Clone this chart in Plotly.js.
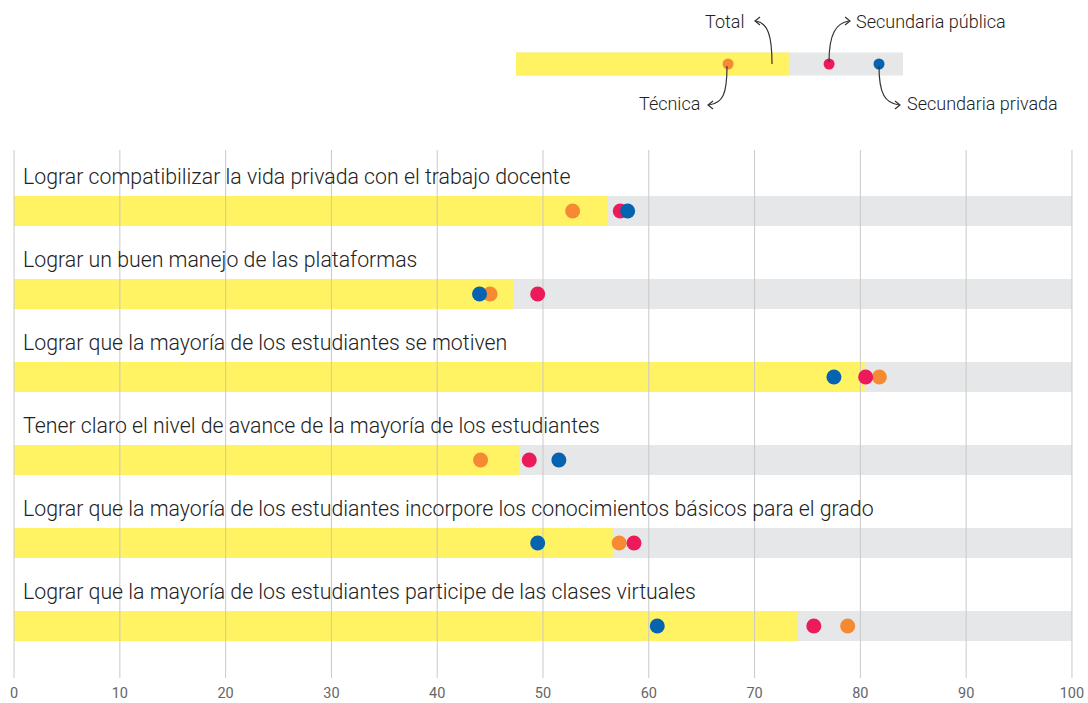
<!DOCTYPE html>
<html>
<head>
<meta charset="utf-8">
<script src="https://cdn.plot.ly/plotly-3.0.1.min.js"></script>
<style>html,body{margin:0;padding:0;background:#fff;}#chart{width:1088px;height:703px;}</style>
</head>
<body>
<div id="chart"></div>
<script>
// ---------- DATA ----------
const categories = [
  "Lograr compatibilizar la vida privada con el trabajo docente",
  "Lograr un buen manejo de las plataformas",
  "Lograr que la mayoría de los estudiantes se motiven",
  "Tener claro el nivel de avance de la mayoría de los estudiantes",
  "Lograr que la mayoría de los estudiantes incorpore los conocimientos básicos para el grado",
  "Lograr que la mayoría de los estudiantes participe de las clases virtuales"
];
const totalValues   = [56.1, 47.2, 80.4, 47.8, 56.6, 74.1];
const tecnicaValues = [52.8, 45.0, 81.8, 44.1, 57.2, 78.8];
const publicaValues = [57.3, 49.5, 80.5, 48.7, 58.6, 75.6];
const privadaValues = [58.0, 44.0, 77.5, 51.5, 49.5, 60.8];
const tickValues = [0, 10, 20, 30, 40, 50, 60, 70, 80, 90, 100];
const tickLabels = ["0", "10", "20", "30", "40", "50", "60", "70", "80", "90", "100"];
const axisMax = 100;
const yearLabel = "AÑO 2020";
// legend key (sample values)
const legendNames  = ["Total", "Técnica", "Secundaria pública", "Secundaria privada"];
const legendValues = [70.5, 54.8, 80.9, 93.8];

// ---------- STYLE / GEOMETRY ----------
const W = 1088, H = 703;
const M = {l: 13, r: 15, t: 20, b: 25};
const plotW = W - M.l - M.r, plotH = H - M.t - M.b;
const px2x = p => (p - M.l) / plotW;
const py2y = p => (H - M.b - p) / plotH;

const C = {
  yellow: "#FFF263", grey: "#E6E7E8", orange: "#F58A33",
  red: "#EC1A5A", blue: "#0563B0", grid: "#C9C9C9", text: "#222222"
};

const rowIdx = categories.map((_, i) => i);
const rowSpacingPx = 83, barPx = 30;
const mainTopPx = 150;
const firstRowPx = 211;
const yTop = -(firstRowPx - mainTopPx) / rowSpacingPx;
const yBottom = yTop + (H - M.b - mainTopPx) / rowSpacingPx;
const barW = barPx / rowSpacingPx;

// legend geometry (pixels)
const legX0 = 516, legX1 = 903, legTop = 41, legBot = 87, legBarPx = 23;

const traces = [];
traces.push({
  type: "bar", orientation: "h", x: categories.map(() => axisMax), y: rowIdx,
  width: barW, marker: {color: C.grey}, hoverinfo: "skip", showlegend: false
});
traces.push({
  type: "bar", orientation: "h", x: totalValues, y: rowIdx, name: "Total",
  width: barW, marker: {color: C.yellow}, showlegend: false
});
const gx = [], gy = [];
tickValues.forEach(v => { gx.push(v, v, null); gy.push(yTop, yBottom, null); });
traces.push({
  type: "scatter", mode: "lines", x: gx, y: gy, line: {color: C.grid, width: 1},
  hoverinfo: "skip", showlegend: false
});
const dotSize = 15;
[[tecnicaValues, C.orange, "Técnica"], [publicaValues, C.red, "Secundaria pública"], [privadaValues, C.blue, "Secundaria privada"]]
  .forEach(([vals, col, nm]) => {
    traces.push({
      type: "scatter", mode: "markers", x: vals, y: rowIdx, name: nm,
      marker: {color: col, size: dotSize}, showlegend: false, cliponaxis: false
    });
  });

const legBarW = 2 * legBarPx / (legBot - legTop);
traces.push({
  type: "bar", orientation: "h", x: [axisMax], y: [0], width: legBarW,
  marker: {color: C.grey}, xaxis: "x2", yaxis: "y2", hoverinfo: "skip", showlegend: false
});
traces.push({
  type: "bar", orientation: "h", x: [legendValues[0]], y: [0], width: legBarW,
  marker: {color: C.yellow}, xaxis: "x2", yaxis: "y2", hoverinfo: "skip", showlegend: false
});
[[1, C.orange], [2, C.red], [3, C.blue]].forEach(([k, col]) => {
  traces.push({
    type: "scatter", mode: "markers", x: [legendValues[k]], y: [0],
    marker: {color: col, size: 11}, xaxis: "x2", yaxis: "y2",
    hoverinfo: "skip", showlegend: false
  });
});

// ---------- ANNOTATIONS ----------
const annotations = [];
categories.forEach((c, i) => {
  annotations.push({
    text: c, x: 0, y: i, xref: "x", yref: "y", xanchor: "left", yanchor: "middle",
    xshift: 7, yshift: 35, showarrow: false,
    font: {family: "Roboto, 'Noto Sans', sans-serif", size: 21.3, weight: 300, color: C.text}
  });
});
annotations.push({
  text: yearLabel, xref: "paper", yref: "paper", x: px2x(14), y: py2y(3),
  xanchor: "left", yanchor: "bottom", showarrow: false,
  font: {family: "Roboto, sans-serif", size: 13, weight: 300, color: C.text}
});
const legFont = {family: "Roboto, 'Noto Sans', sans-serif", size: 18, weight: 300, color: C.text};
const legLabels = [
  [legendNames[0], 746, 22, "right"],
  [legendNames[1], 702, 104, "right"],
  [legendNames[2], 854, 22, "left"],
  [legendNames[3], 905, 104, "left"]
];
legLabels.forEach(([t, xp, yp, anc]) => {
  annotations.push({
    text: t, xref: "paper", yref: "paper", x: px2x(xp), y: py2y(yp),
    xanchor: anc, yanchor: "middle", showarrow: false, font: legFont
  });
});

// ---------- CURVED ARROWS ----------
function pathStr(cmds) {
  return cmds.map(c => {
    const [op, ...pts] = c;
    const out = [];
    for (let i = 0; i < pts.length; i += 2) out.push(px2x(pts[i]).toFixed(5) + "," + py2y(pts[i + 1]).toFixed(5));
    return op + " " + out.join(" ");
  }).join(" ");
}
const arrowLine = {color: "#333333", width: 1.2};
const shapes = [];
function arrow(curve, head) {
  shapes.push({type: "path", xref: "paper", yref: "paper", path: pathStr(curve), line: arrowLine});
  shapes.push({type: "path", xref: "paper", yref: "paper", path: pathStr(head), line: arrowLine});
}
arrow([["M", 772, 64], ["C", 772, 36, 768, 23, 756, 21]],
      [["M", 760, 17], ["L", 755, 21], ["L", 760, 25]]);
arrow([["M", 829, 62], ["C", 829, 34, 836, 23, 849, 21]],
      [["M", 845, 17], ["L", 850, 21], ["L", 845, 25]]);
arrow([["M", 727, 66], ["C", 727, 94, 723, 103, 709, 105]],
      [["M", 713, 101], ["L", 708, 105], ["L", 713, 109]]);
arrow([["M", 879, 66], ["C", 879, 94, 885, 103, 899, 105]],
      [["M", 895, 101], ["L", 900, 105], ["L", 895, 109]]);

const layout = {
  width: W, height: H,
  margin: M,
  paper_bgcolor: "#ffffff", plot_bgcolor: "rgba(0,0,0,0)",
  barmode: "overlay",
  showlegend: false,
  font: {family: "Roboto, sans-serif"},
  xaxis: {
    domain: [0, 1], range: [-0.1, 100.1], showgrid: false, zeroline: false,
    showline: false, ticks: "", tickvals: tickValues, ticktext: tickLabels,
    tickfont: {family: "'Liberation Sans Narrow', 'Roboto', sans-serif", size: 14.5, color: "#666666"},
    ticklabelstandoff: 4, fixedrange: true, anchor: "y"
  },
  yaxis: {
    domain: [0, py2y(mainTopPx)], range: [yBottom, yTop], showgrid: false,
    zeroline: false, showticklabels: false, ticks: "", fixedrange: true
  },
  xaxis2: {
    domain: [px2x(legX0), px2x(legX1)], range: [0, axisMax], anchor: "y2",
    visible: false, fixedrange: true
  },
  yaxis2: {
    domain: [py2y(legBot), py2y(legTop)], range: [-1, 1], anchor: "x2",
    visible: false, fixedrange: true
  },
  annotations: annotations,
  shapes: shapes
};

Plotly.newPlot("chart", traces, layout, {displayModeBar: false, staticPlot: true});
</script>
</body>
</html>
